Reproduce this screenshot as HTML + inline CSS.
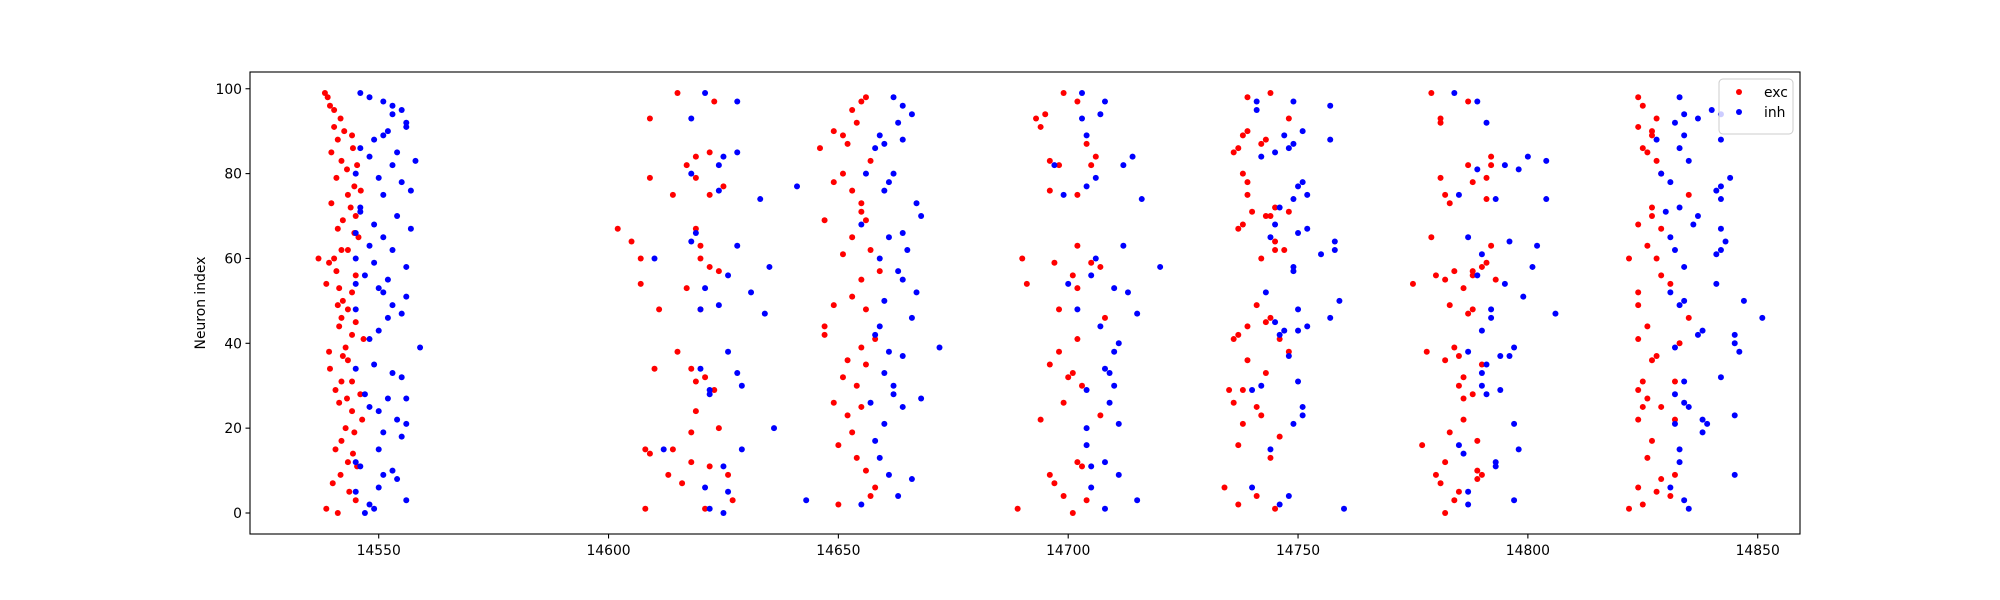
<!DOCTYPE html>
<html><head><meta charset="utf-8">
<style>
html,body{margin:0;padding:0;background:#fff;}
svg{display:block;font-family:"DejaVu Sans","Liberation Sans",sans-serif;}
</style></head>
<body>
<svg id="chart" width="2000" height="600" viewBox="0 0 2000 600"></svg>
<script>
// Spike times are offsets from T0
const T0 = 14500;
const excTime = [38.3,38.9,39.4,40.3,41.7,40.3,42.5,44.2,41.1,44.4,39.7,41.9,45.3,43.1,40.8,44.7,46.1,43.3,39.7,43.9,45.0,42.2,41.1,44.7,45.6,43.3,41.9,40.3,36.9,39.2,40.8,45.0,38.6,41.4,44.2,42.2,41.1,43.3,41.9,45.0,41.4,44.2,46.7,42.8,39.2,42.2,39.4,43.3,41.9,44.2,40.6,46.0,43.1,41.4,44.2,46.4,42.8,44.7,41.9,40.6,44.4,43.3,45.3,41.7,40.0,43.6,45.0,38.6,41.1,
102,105,107,107,109,109,110,111,108,109,108,113,114,115,115,116,117,117,118,118,118,119,119,120,120,119,119,120,121,122,122,122,122,123,124,124,123,125,126,127,114,119,121,
146,147,147,147,149,149,149,149,150,150,151,151,151,151,152,152,153,153,153,153,153,154,154,154,155,155,155,155,155,155,156,156,156,156,156,157,157,157,158,158,159,152,
189,190,191,193,194,194,195,196,196,196,196,197,197,198,198,198,199,199,199,200,201,201,201,202,202,202,202,202,202,203,203,204,204,205,205,206,207,207,208,
234,235,236,236,236,237,237,237,237,237,238,238,238,238,238,239,239,239,239,239,240,241,241,241,242,242,242,243,243,243,243,244,244,244,244,245,245,245,245,246,246,247,248,248,248,239,
275,277,278,279,279,280,280,281,281,281,281,282,282,282,282,282,283,283,283,284,284,284,285,285,285,286,286,286,286,287,287,287,288,288,288,288,288,289,289,289,290,290,290,291,291,292,292,292,291,293,
322,322,324,324,324,324,324,324,324,324,324,325,325,325,325,325,326,326,326,326,326,327,327,327,327,327,327,328,328,328,328,328,329,329,329,329,329,331,331,332,332,333,335,335,332];
const excIndex = [99,98,96,95,93,91,90,89,88,86,85,83,82,81,79,77,76,75,73,72,70,69,67,66,65,62,62,60,60,59,57,56,54,53,52,50,49,48,46,45,44,42,41,39,38,37,34,36,31,31,29,28,27,26,24,22,20,19,17,15,14,12,11,9,7,5,3,1,0,
67,64,60,54,93,79,34,48,15,14,1,9,75,99,38,7,53,82,19,12,34,84,79,60,48,24,31,63,1,85,75,58,11,97,57,20,29,77,9,3,15,67,32,
86,69,44,42,90,78,49,26,16,2,89,80,61,32,87,23,95,76,65,51,19,92,30,13,97,71,73,55,39,25,98,69,48,35,10,83,62,4,41,6,57,36,
1,60,54,93,91,22,94,83,76,9,35,59,7,82,48,38,99,26,4,32,56,33,0,97,75,63,53,41,12,30,11,87,3,82,59,84,58,23,46,
6,29,85,41,26,86,67,42,16,2,68,80,89,21,29,90,78,75,44,36,71,49,25,4,87,60,23,88,70,45,33,99,70,46,13,72,62,64,1,41,18,62,93,71,38,98,
54,16,38,99,65,9,56,93,92,79,7,75,55,36,12,0,73,49,19,57,39,3,37,30,5,53,32,27,22,97,82,47,57,78,56,48,28,17,10,8,58,9,35,74,59,84,63,82,79,55,
1,60,98,91,68,52,49,41,29,22,6,96,86,31,25,2,85,63,44,27,13,90,89,72,70,36,17,93,83,60,37,5,80,67,56,25,8,54,4,22,31,40,75,46,9];
const inhTime = [46,48,51,53,55,53,56,56,52,51,49,46,54,48,53,58,45,50,55,57,51,46,46,54,49,57,45,51,48,53,45,49,56,47,52,45,50,51,56,53,45,52,55,50,59,48,45,53,49,55,47,52,56,50,48,54,56,51,55,46,45,50,53,51,54,45,50,48,47,49,56,
110,112,118,118,118,119,120,120,121,121,122,122,121,122,124,124,125,125,125,126,126,126,128,128,128,128,129,129,131,133,134,135,136,141,143,124,
155,155,156,157,158,158,158,159,159,159,159,160,160,160,160,160,161,161,161,161,162,162,162,163,163,163,164,164,164,164,164,164,165,166,166,166,167,167,168,168,172,162,
197,199,200,202,203,203,204,204,204,204,205,205,206,206,207,207,208,208,208,208,209,209,210,210,210,211,211,211,212,212,213,214,215,215,216,220,205,204,
240,240,241,241,242,242,243,244,244,245,245,245,246,246,246,247,247,248,248,248,249,249,249,249,249,249,250,250,250,250,250,251,251,251,251,252,252,252,255,257,257,257,258,258,259,260,
284,285,285,286,287,287,287,287,289,289,289,290,290,290,290,291,291,291,292,292,293,293,293,294,295,295,296,296,297,297,297,298,298,299,300,301,302,304,304,306,294,
328,329,330,331,331,331,331,332,332,332,332,332,333,333,333,333,333,333,334,334,334,334,334,334,334,335,335,335,336,337,337,337,338,338,338,339,340,341,341,341,342,342,342,342,342,342,342,343,344,345,345,345,345,346,347,351];
const inhIndex = [99,98,97,96,95,94,92,91,90,89,88,86,85,84,82,83,80,79,78,76,75,72,71,70,68,67,66,65,63,62,60,59,58,56,55,54,53,52,51,49,48,46,47,43,39,41,34,33,35,32,28,27,27,24,25,22,21,19,18,11,12,15,10,9,8,5,6,2,0,1,3,
60,15,64,80,93,66,34,48,99,53,29,28,6,1,82,76,84,11,0,38,56,5,97,85,63,33,30,15,52,74,47,58,20,77,3,49,
68,2,80,26,86,42,17,89,60,44,13,87,76,50,33,21,78,65,38,9,98,80,28,92,57,4,96,88,66,55,37,25,62,94,46,8,73,52,70,27,39,30,
82,75,54,48,99,93,89,29,20,16,56,6,60,79,94,44,97,34,12,1,33,26,53,38,30,40,21,9,82,63,52,84,47,3,74,58,11,77,
29,6,97,95,84,30,52,65,15,85,68,45,72,42,2,89,43,86,37,4,97,87,74,57,58,21,77,66,48,43,31,90,78,25,23,44,75,67,61,96,88,46,62,64,50,1,
99,75,16,14,65,38,2,5,97,81,56,61,43,30,33,92,35,28,46,48,74,12,11,29,82,54,37,64,39,21,3,81,15,51,84,58,63,83,74,47,37,
88,80,71,78,65,52,6,92,62,39,28,21,98,86,72,49,15,12,94,89,58,50,31,26,3,83,25,1,68,93,70,42,43,19,22,21,95,76,61,54,94,88,77,74,67,62,32,64,79,23,9,40,42,38,50,46];
const xTicks = [14550,14600,14650,14700,14750,14800,14850];
const yTicks = [0,20,40,60,80,100];

const NS = "http://www.w3.org/2000/svg";
const svg = document.getElementById('chart');
const L = 250, R = 1800, TOP = 72, BOT = 534;
const xMin = 14522.0, xMax = 14859.2, yMin = -4.95, yMax = 103.95;
function xs(v){ return L + (v - xMin) / (xMax - xMin) * (R - L); }
function ys(v){ return BOT - (v - yMin) / (yMax - yMin) * (BOT - TOP); }
function mk(tag, attrs, parent){
  const e = document.createElementNS(NS, tag);
  for (const k in attrs) e.setAttribute(k, attrs[k]);
  (parent || svg).appendChild(e);
  return e;
}

const plot = mk('g', {});



const excG = mk('g', {fill: '#ff0000'}, plot);


for (let i = 0; i < excTime.length; i++) {
  const c = mk('circle', {cx: xs(T0 + excTime[i]), cy: ys(excIndex[i]), r: 3}, excG);
  
  
}
const inhG = mk('g', {fill: '#0000ff'}, plot);


for (let i = 0; i < inhTime.length; i++) {
  const c = mk('circle', {cx: xs(T0 + inhTime[i]), cy: ys(inhIndex[i]), r: 3}, inhG);
  
  
}

const frame = mk('rect', {x: L, y: TOP, width: R - L, height: BOT - TOP, fill: 'none', stroke: '#000', 'stroke-width': 1.1});



const xAxis = mk('g', {});


xTicks.forEach(t => {
  const x = xs(t);
  mk('line', {x1: x, x2: x, y1: BOT, y2: BOT + 4.5, stroke: '#000', 'stroke-width': 1.1}, xAxis);
  const tx = mk('text', {x: x, y: BOT + 21, 'text-anchor': 'middle', 'font-size': 13.9}, xAxis);
  tx.textContent = t;
  
  
});
const yAxis = mk('g', {});


yTicks.forEach(t => {
  const y = ys(t);
  mk('line', {x1: L - 4.5, x2: L, y1: y, y2: y, stroke: '#000', 'stroke-width': 1.1}, yAxis);
  const tx = mk('text', {x: L - 8, y: y + 5, 'text-anchor': 'end', 'font-size': 13.9}, yAxis);
  tx.textContent = t;
  
  
});
const yl = mk('text', {x: 0, y: 0, 'text-anchor': 'middle', 'font-size': 13.9, transform: 'translate(205,' + ((TOP + BOT) / 2) + ') rotate(-90)'});
yl.textContent = 'Neuron index';



const leg = mk('g', {});


mk('rect', {x: 1719, y: 79, width: 74, height: 55, rx: 4, fill: '#fff', 'fill-opacity': 0.8, stroke: '#cccccc', 'stroke-width': 1}, leg);
[['exc', '#ff0000', 92], ['inh', '#0000ff', 112]].forEach(([lab, col, y]) => {
  const e = mk('g', {}, leg);
  
  
  mk('circle', {cx: 1739, cy: y, r: 3, fill: col}, e);
  const t = mk('text', {x: 1764, y: y + 5, 'font-size': 13.9}, e);
  t.textContent = lab;
});
</script>
</body></html>
